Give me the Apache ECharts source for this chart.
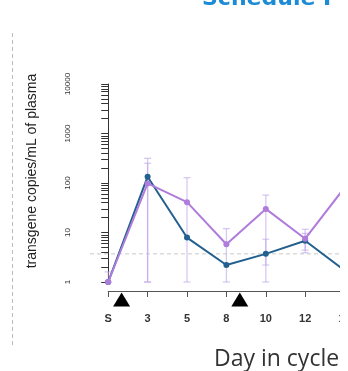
<!DOCTYPE html>
<html><head><meta charset="utf-8">
<script src="https://cdn.jsdelivr.net/npm/echarts@6/dist/echarts.min.js"></script>
<style>html,body{margin:0;padding:0;background:#fff}#c{width:340px;height:371px}</style>
</head><body><div id="c"></div>
<script>
const categories = ['S', '3', '5', '8', '10', '12', '15'];
const purpleValues = [1, 98, 41, 5.8, 30, 7.5, 81];
const blueValues = [1, 134, 7.9, 2.2, 3.7, 6.8, 1.7];
const purpleLow = [1, 1, 1, 1, 1, 3.9, null];
const purpleHigh = [1.6, 250, 128, 12, 57, 11.6, null];
const blueLow = [null, 1, null, null, 2.2, 4.4, null];
const blueHigh = [null, 315, null, null, 7.3, 9.6, null];
const lloq = 3.7;
const dosePositions = [0.34, 3.34];
const yLabelValues = [1, 10, 100, 1000, 10000];
const yTickValues = [];
for (let d = 0; d < 4; d++) for (let k = 1; k <= 9; k++) yTickValues.push(k * Math.pow(10, d));
yTickValues.push(10000);

const PURPLE = '#b07cdc';
const BLUE = '#23608f';
const ERR = 'rgba(190,165,235,0.6)';

function errSeries(low, high) {
  return {
    type: 'custom', xAxisIndex: 0, yAxisIndex: 0, z: 1, clip: false, silent: true,
    data: categories.map((c, i) => [i, low[i], high[i]]).filter(d => d[1] != null),
    encode: { x: 0, y: [1, 2] },
    renderItem(params, api) {
      const x = api.value(0);
      const lo = api.coord([x, api.value(1)]);
      const hi = api.coord([x, api.value(2)]);
      const w = 3.5;
      const st = { stroke: ERR, lineWidth: 1.3 };
      return { type: 'group', children: [
        { type: 'line', shape: { x1: lo[0], y1: lo[1], x2: hi[0], y2: hi[1] }, style: st },
        { type: 'line', shape: { x1: lo[0] - w, y1: lo[1], x2: lo[0] + w, y2: lo[1] }, style: st },
        { type: 'line', shape: { x1: hi[0] - w, y1: hi[1], x2: hi[0] + w, y2: hi[1] }, style: st }
      ] };
    }
  };
}

const chart = echarts.init(document.getElementById('c'), null, { renderer: 'canvas' });
const GL = 108.2, GW = 7 * 39.4, YL = 90;
chart.setOption({
  animation: false,
  title: [
    { text: 'Schedule I', left: 197, top: -17,
      textStyle: { fontFamily: 'DejaVu Sans', fontWeight: 'bold', fontSize: 22, color: '#1c8bd6' } },
    { text: 'Day in cycle', left: 209, top: 343,
      textStyle: { fontFamily: 'Open Sans', fontWeight: 'normal', fontSize: 23, color: '#333' } }
  ],
  grid: [
    { left: GL, top: 84, width: GW, height: 198, outerBoundsMode: 'none' },
    { left: GL, top: 292, width: GW, height: 15, outerBoundsMode: 'none' },
    { left: YL, top: 84, width: GL + GW - YL, height: 198, outerBoundsMode: 'none' }
  ],
  xAxis: [
    { type: 'value', gridIndex: 0, min: 0, max: 7, interval: 1, offset: 9,
      axisLine: { lineStyle: { color: '#555', width: 1 } },
      axisTick: { length: 6, lineStyle: { color: '#555' } },
      axisLabel: { formatter: v => categories[v] ?? '', margin: 22, fontSize: 11, fontWeight: 'bold',
        color: '#333', fontFamily: 'Liberation Sans' },
      splitLine: { show: false } },
    { type: 'value', gridIndex: 1, min: 0, max: 7, show: false },
    { type: 'value', gridIndex: 2, min: 0, max: 1, show: false }
  ],
  yAxis: [
    { type: 'log', logBase: 10, gridIndex: 0, min: 1, max: 10000, offset: GL - YL,
      axisLine: { show: true, lineStyle: { color: '#333', width: 1 } },
      axisTick: { show: true, length: 7, customValues: yTickValues, lineStyle: { color: '#333' } },
      axisLabel: { customValues: yLabelValues, formatter: v => String(v), rotate: 90, fontSize: 8,
        margin: 18, color: '#333', fontFamily: 'Liberation Sans' },
      splitLine: { show: false } },
    { type: 'value', gridIndex: 1, min: 0, max: 1, show: false },
    { type: 'log', logBase: 10, gridIndex: 2, min: 1, max: 10000, show: false }
  ],
  graphic: [
    { type: 'line', shape: { x1: 12.5, y1: 33, x2: 12.5, y2: 345 },
      style: { stroke: '#bbb', lineWidth: 1, lineDash: [4, 3] } },
    { type: 'text', x: 31.7, y: 171, rotation: Math.PI / 2,
      style: { text: 'transgene copies/mL of plasma', font: '14px "Liberation Sans"', fill: '#222',
        textAlign: 'center', textVerticalAlign: 'middle' } }
  ],
  series: [
    { type: 'line', xAxisIndex: 2, yAxisIndex: 2, z: 0, silent: true, symbol: 'none',
      data: [[0, lloq], [1, lloq]],
      lineStyle: { color: '#c8c8c8', type: [4, 3], width: 1 } },
    errSeries(blueLow, blueHigh),
    errSeries(purpleLow, purpleHigh),
    { type: 'line', xAxisIndex: 0, yAxisIndex: 0, z: 3, clip: false,
      data: categories.map((c, i) => [i, blueValues[i]]),
      symbol: 'circle', symbolSize: 6, itemStyle: { color: BLUE }, lineStyle: { color: BLUE, width: 2 } },
    { type: 'line', xAxisIndex: 0, yAxisIndex: 0, z: 4, clip: false,
      data: categories.map((c, i) => [i, purpleValues[i]]),
      symbol: 'circle', symbolSize: 6, itemStyle: { color: PURPLE }, lineStyle: { color: PURPLE, width: 2 } },
    { type: 'scatter', xAxisIndex: 1, yAxisIndex: 1, symbol: 'triangle', symbolSize: [17, 14],
      itemStyle: { color: '#000', opacity: 1 }, data: dosePositions.map(p => [p, 0.5]) }
  ]
});
</script></body></html>
